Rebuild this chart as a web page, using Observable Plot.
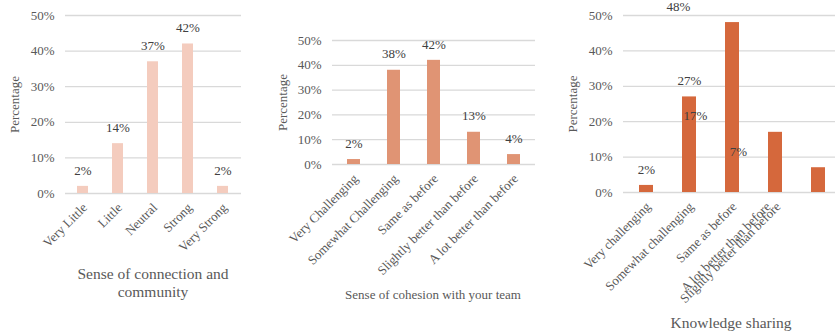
<!DOCTYPE html>
<html><head><meta charset="utf-8">
<script src="https://cdn.jsdelivr.net/npm/d3@7"></script>
<script src="https://cdn.jsdelivr.net/npm/@observablehq/plot@0.6"></script>
<style>
body{margin:0;background:#fff;font-family:"Liberation Serif","Times New Roman",serif;}
#wrap{position:relative;width:835px;height:333px;overflow:hidden;background:#fff;}
.panel{position:absolute;top:0;}
.title{position:absolute;text-align:center;color:#595959;white-space:nowrap;}
</style></head><body><div id="wrap"></div>
<script>
// ---- data ----
const connectionCategories = ["Very Little", "Little", "Neutral", "Strong", "Very Strong"];
const connectionValues = [2, 14, 37, 42, 2];
const cohesionCategories = ["Very Challenging", "Somewhat Challenging", "Same as before", "Slightly better than before", "A lot better than before"];
const cohesionValues = [2, 38, 42, 13, 4];
const knowledgeCategories = ["Very challenging", "Somewhat challenging", "Same as before", "Slightly better than before", "A lot better than before"];
const knowledgeValues = [2, 27, 48, 17, 7];
// bar index under/over which each label is printed in the picture (knowledge chart)
const knowledgeLabelSlot = [0, 1, 1, 1, 2];
const knowledgeTickSlot = [0, 1, 2, 3, 3];
const yTicks = [0, 10, 20, 30, 40, 50];
const titles = ["Sense of connection and<br>community", "Sense of cohesion with your team", "Knowledge sharing"];

const wrap = document.getElementById("wrap");
const font = "Liberation Serif";

function chart({cats, vals, fill, width, mL, mR, mT, mB, labelOffset, valueMarks, tickMarks}) {
  const data = cats.map((c, i) => ({c, v: vals[i]}));
  return Plot.plot({
    width, height: 333,
    marginLeft: mL, marginRight: mR, marginTop: mT, marginBottom: mB,
    style: {fontFamily: font, fontSize: "13px", color: "#595959", background: "transparent", overflow: "visible"},
    x: {domain: cats, paddingInner: 0.68, paddingOuter: 0.34},
    y: {domain: [0, 50]},
    marks: [
      Plot.gridY(yTicks, {stroke: "#d9d9d9", strokeOpacity: 1, strokeWidth: 1.3}),
      Plot.axisY({ticks: yTicks, tickFormat: d => d + "%", tickSize: 0, tickPadding: 11,
        label: "Percentage", labelAnchor: "center", labelOffset, labelArrow: "none", fill: "#595959", fontSize: 13}),
      Plot.barY(data, {x: "c", y: "v", fill}),
      ...(tickMarks || [Plot.axisX({tickRotate: -45, tickSize: 0, tickPadding: 12, dx: 2, label: null, fill: "#595959", fontSize: 13})]),
      ...(valueMarks || [Plot.text(data, {x: "c", y: "v", text: d => d.v + "%", dy: -16, fill: "#404040", fontSize: 13})])
    ]
  });
}

function place(el, left) {
  el.classList.add("panel");
  el.style.left = left + "px";
  wrap.appendChild(el);
}

place(chart({cats: connectionCategories, vals: connectionValues, fill: "#f4ccbe",
  width: 260, mL: 65, mR: 19, mT: 15, mB: 140, labelOffset: 56}), 0);

place(chart({cats: cohesionCategories, vals: cohesionValues, fill: "#e09474",
  width: 275, mL: 52, mR: 20, mT: 40, mB: 169, labelOffset: 55}), 280);

const kLabel = (i, dx) => Plot.text([i], {
  x: () => knowledgeCategories[knowledgeLabelSlot[i]], y: () => knowledgeValues[i],
  text: () => knowledgeValues[i] + "%", dy: -16, dx, fill: "#404040", fontSize: 13});
const kTick = (i, dx) => Plot.axisX({
  ticks: [knowledgeCategories[knowledgeTickSlot[i]]], tickFormat: () => knowledgeCategories[i],
  tickRotate: -45, tickSize: 0, tickPadding: 12, label: null, dx, fill: "#595959", fontSize: 13});

place(chart({cats: knowledgeCategories, vals: knowledgeValues, fill: "#d5683c",
  width: 300, mL: 68, mR: 15, mT: 15, mB: 141, labelOffset: 56,
  valueMarks: [kLabel(0, 0), kLabel(1, 0), kLabel(2, -11), kLabel(3, 6), kLabel(4, 6)],
  tickMarks: [kTick(0, 2), kTick(1, 2), kTick(2, 2), kTick(3, 3), kTick(4, -7)]}), 555);

const tpos = [
  {left: 53, top: 265, w: 200, size: 15.5, lh: 18},
  {left: 333, top: 286, w: 200, size: 13, lh: 18},
  {left: 631, top: 314, w: 200, size: 15.5, lh: 18}
];
titles.forEach((t, i) => {
  const d = document.createElement("div");
  d.className = "title";
  d.innerHTML = t;
  Object.assign(d.style, {left: tpos[i].left + "px", top: tpos[i].top + "px", width: tpos[i].w + "px",
    fontSize: tpos[i].size + "px", lineHeight: tpos[i].lh + "px"});
  wrap.appendChild(d);
});
</script></body></html>
